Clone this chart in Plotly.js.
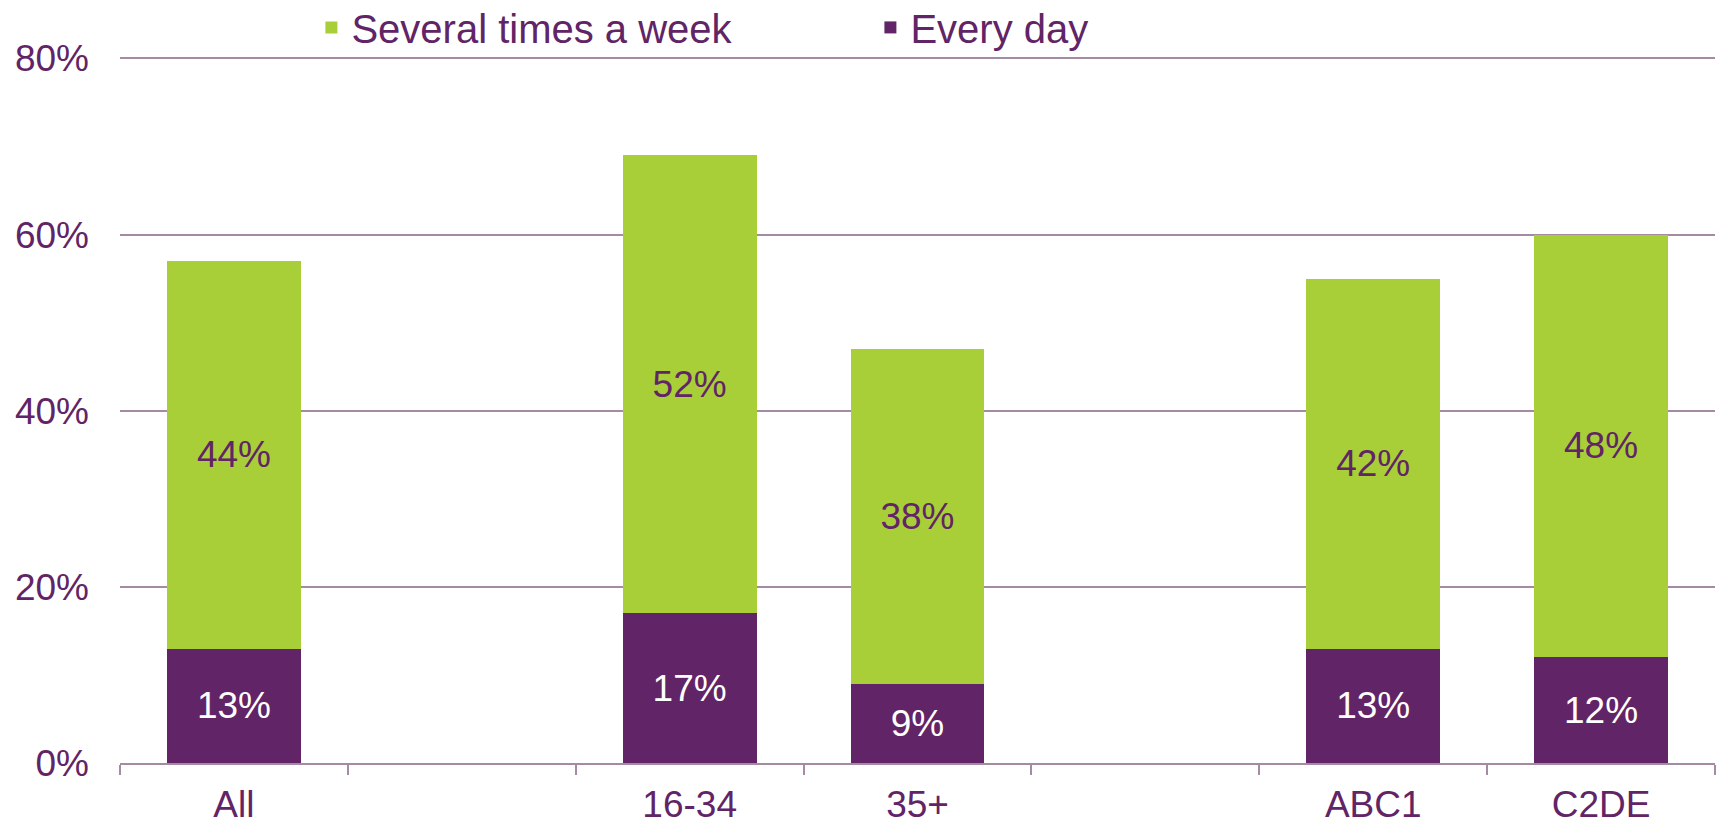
<!DOCTYPE html>
<html>
<head>
<meta charset="utf-8">
<script src="https://cdn.plot.ly/plotly-3.0.1.min.js"></script>
<style>html,body{margin:0;padding:0;background:#fff;}#chart{width:1717px;height:825px;}</style>
</head>
<body>
<div id="chart"></div>
<script>
const categories = ["All", " ", "16-34", "35+", "  ", "ABC1", "C2DE"];
const everyDay = [13, null, 17, 9, null, 13, 12];
const severalTimes = [44, null, 52, 38, null, 42, 48];
const seriesNames = ["Several times a week", "Every day"];
const yTickVals = [0, 20, 40, 60, 80];
const yTickText = ["0%", "20%", "40%", "60%", "80%"];

const purple = "#612466";
const green = "#A9CF38";
const grid = "#A48AA3";
const font = "Liberation Sans, Arial, sans-serif";

const traces = [
  {
    type: "bar", name: seriesNames[1], x: categories, y: everyDay,
    marker: {color: purple},
    text: everyDay.map(v => v == null ? "" : v + "%"),
    textposition: "inside", insidetextanchor: "middle", textangle: 0,
    constraintext: "none",
    insidetextfont: {color: "#FFFFFF", size: 37, family: font},
    hoverinfo: "skip", legendrank: 2
  },
  {
    type: "bar", name: seriesNames[0], x: categories, y: severalTimes,
    marker: {color: green},
    text: severalTimes.map(v => v == null ? "" : v + "%"),
    textposition: "inside", insidetextanchor: "middle", textangle: 0,
    constraintext: "none",
    insidetextfont: {color: purple, size: 37, family: font},
    hoverinfo: "skip", legendrank: 1
  }
];

const layout = {
  width: 1717, height: 825,
  margin: {l: 120, r: 2, t: 54, b: 62, pad: 0, autoexpand: false},
  paper_bgcolor: "#FFFFFF", plot_bgcolor: "#FFFFFF",
  barmode: "stack", bargap: 0.413,
  font: {family: font, color: purple, size: 37},
  showlegend: true,
  legend: {
    orientation: "h", traceorder: "normal",
    x: 0.12, xanchor: "left", y: 1.0375, yanchor: "middle",
    font: {size: 40, color: purple, family: font},
    entrywidth: 514, entrywidthmode: "pixels",
    bgcolor: "rgba(0,0,0,0)"
  },
  xaxis: {
    type: "category", categoryorder: "array", categoryarray: categories,
    showgrid: false, zeroline: false,
    showline: true, linecolor: grid, linewidth: 2,
    ticks: "outside", tickson: "boundaries", ticklen: 10, tickcolor: grid, tickwidth: 2,
    ticklabelstandoff: 8,
    tickfont: {size: 37, color: purple, family: font},
    fixedrange: true
  },
  yaxis: {
    range: [0, 80.5], tickvals: yTickVals, ticktext: yTickText,
    showgrid: true, gridcolor: grid, gridwidth: 2,
    zeroline: false, showline: false, ticks: "",
    ticklabelstandoff: 30,
    tickfont: {size: 37, color: purple, family: font},
    fixedrange: true
  }
};

Plotly.newPlot("chart", traces, layout, {displayModeBar: false, staticPlot: true});
</script>
</body>
</html>
